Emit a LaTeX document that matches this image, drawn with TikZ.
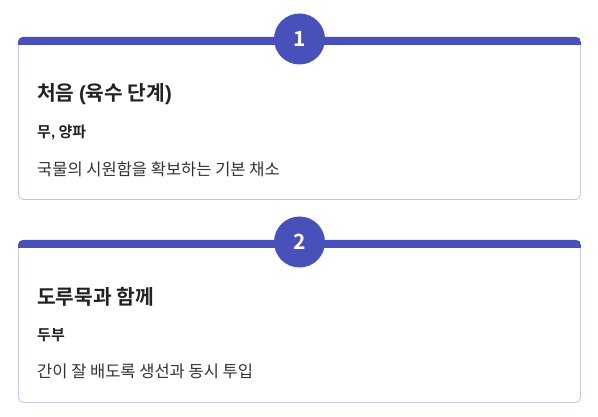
\documentclass[tikz,border=0pt]{standalone}
\usepackage{fontspec}
\newfontfamily\kr{Noto Sans CJK KR}
\newfontfamily\krb{Noto Sans CJK KR Bold}
\newfontfamily\lat{Liberation Sans}
\newcommand\latb{\lat\bfseries}
\definecolor{barc}{HTML}{4851BA}
\definecolor{bordc}{HTML}{C9C7DF}
\definecolor{txt}{HTML}{222222}
\definecolor{txtb}{HTML}{333333}
\begin{document}
\begin{tikzpicture}[x=1pt,y=-1pt,
  card/.style={draw=bordc,line width=0.9pt,fill=white,rounded corners=5pt},
  bar/.style={fill=barc},
  badge/.style={circle,fill=barc,minimum size=51pt,inner sep=0pt,text=white,font=\krb\fontsize{21}{21}\selectfont},
  title/.style={anchor=base west,inner sep=0pt,text=txt,font=\krb\fontsize{20.3}{20.3}\selectfont},
  sub/.style={anchor=base west,inner sep=0pt,text=txt,font=\krb\fontsize{15}{15}\selectfont},
  desc/.style={anchor=base west,inner sep=0pt,text=txtb,font=\kr\fontsize{16.5}{16.5}\selectfont}]
\useasboundingbox (0,0) rectangle (598,417);
% card 1
\path[card] (18.5,37) rectangle (580.5,199.5);
\begin{scope}
\clip[rounded corners=5pt] (18,37) rectangle (581,200);
\fill[bar] (18,37) rectangle (581,45);
\end{scope}
\node[badge] (b1) at (299.5,39) {1};
\node[title] (t1) at (37,100.5) {처음 {\latb(}육수 단계{\latb)}};
\node[sub] (s1) at (37,137.5) {무{\latb,} 양파};
\node[desc] (d1) at (37,175.5) {국물의 시원함을 확보하는 기본 채소};
% card 2
\path[card] (18.5,240) rectangle (580.5,402.5);
\begin{scope}
\clip[rounded corners=5pt] (18,240) rectangle (581,403);
\fill[bar] (18,240) rectangle (581,248);
\end{scope}
\node[badge] (b2) at (299.5,242) {2};
\node[title] (t2) at (37,304.5) {도루묵과 함께};
\node[sub] (s2) at (37,340.5) {두부};
\node[desc] (d2) at (37,377.5) {간이 잘 배도록 생선과 동시 투입};
\end{tikzpicture}
\end{document}
